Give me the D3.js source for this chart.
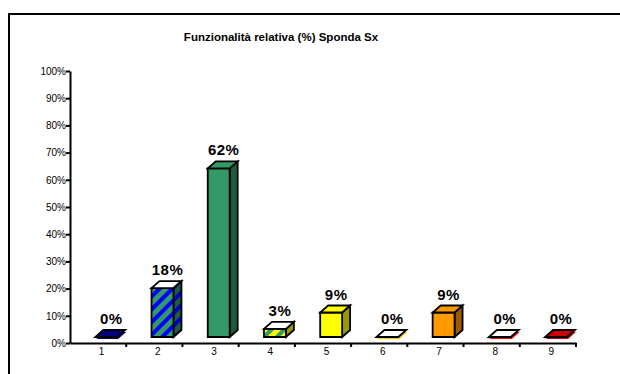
<!DOCTYPE html>
<html><head><meta charset="utf-8">
<script src="https://cdn.jsdelivr.net/npm/d3@7"></script>
<style>body{margin:0;background:#fff;}svg{display:block;font-family:"Liberation Sans",Arial,sans-serif;}</style>
</head><body>
<svg id="chart" width="620" height="374"></svg>
<script>
const title = "Funzionalità relativa (%) Sponda Sx";
const categories = ["1","2","3","4","5","6","7","8","9"];
const values = [0, 18, 62, 3, 9, 0, 9, 0, 0];
const valueLabels = ["0%","18%","62%","3%","9%","0%","9%","0%","0%"];
const yTicks = [0,10,20,30,40,50,60,70,80,90,100];
// per-bar colours: front, side, top, edge
const frontColors = ["#000080","url(#p2)","#339966","url(#p4)","#FFFF00","#FFCC00","#FF9900","#FF0000","#CC0000"];
const sideColors  = ["#000060","url(#p2d)","#1F5C3D","url(#p4d)","#999900","#CC9900","#995C00","#CC0000","#800000"];
const topColors   = ["#000080","#FFFFFF","#339966","#FFFFFF","#FFFF00","#FFFFFF","#FF9900","#FFFFFF","#CC0000"];

const svg = d3.select("#chart");
const defs = svg.append("defs");
function stripes(id, bg, fg){
  const p = defs.append("pattern").attr("id", id).attr("patternUnits","userSpaceOnUse")
    .attr("width",9).attr("height",9).attr("patternTransform","rotate(45)");
  p.append("rect").attr("width",9).attr("height",9).attr("fill",bg);
  p.append("rect").attr("width",4).attr("height",9).attr("fill",fg);
}
stripes("p2","#339966","#0000FF");
stripes("p2d","#1F5C3D","#0000CC");
stripes("p4","#FFFF00","#339966");
stripes("p4d","#999900","#1F5C3D");

// frame
svg.append("rect").attr("x",9).attr("y",14).attr("width",640).attr("height",400)
  .attr("fill","none").attr("stroke","#000").attr("stroke-width",2);

svg.append("text").attr("x",281).attr("y",41).attr("text-anchor","middle")
  .attr("font-size",11.5).attr("font-weight","bold").text(title);

const x = d3.scaleBand().domain(categories).range([70,576]).padding(0);
const y = d3.scaleLinear().domain([0,100]).range([343,71]);

// y axis
const yAx = svg.append("g").attr("transform","translate(70,0)")
  .call(d3.axisLeft(y).tickValues(yTicks).tickSize(4).tickSizeOuter(0).tickFormat(d=>d+"%"));
yAx.select(".domain").attr("stroke-width",2);
yAx.selectAll(".tick line").attr("stroke-width",2);
yAx.selectAll(".tick text").attr("font-size",10).attr("font-family","Liberation Sans, Arial, sans-serif")
  .attr("x",-4).attr("fill","#000");

// x axis
const xAx = svg.append("g").attr("transform","translate(0,343)")
  .call(d3.axisBottom(x).tickSize(0).tickSizeOuter(0));
xAx.select(".domain").attr("stroke-width",2);
xAx.selectAll(".tick text").attr("font-size",10).attr("font-family","Liberation Sans, Arial, sans-serif")
  .attr("dx",3.5).attr("dy",9).attr("fill","#000");
xAx.selectAll(".btick").data(categories).enter().append("line")
  .attr("x1",d=>x(d)+x.bandwidth()).attr("x2",d=>x(d)+x.bandwidth())
  .attr("y1",0).attr("y2",4).attr("stroke","#000").attr("stroke-width",2);

// bars
const barOff = x.bandwidth()*0.45, barW = x.bandwidth()*0.39;
const dx = 8, dy = 7, lift = 6;
const base = y(0) - lift;
const g = svg.append("g");
categories.forEach((c,i)=>{
  const v = values[i];
  const x0 = x(c) + barOff, x1 = x0 + barW;
  const yt = base - (y(0) - y(v));
  const bg = g.append("g").attr("stroke","#000").attr("stroke-width",1.8).attr("stroke-linejoin","miter");
  if (v > 0) {
    bg.append("path").attr("fill", sideColors[i])
      .attr("d", `M${x1},${base}L${x1+dx},${base-dy}L${x1+dx},${yt-dy}L${x1},${yt}Z`);
    bg.append("path").attr("fill", frontColors[i])
      .attr("d", `M${x0},${base}L${x1},${base}L${x1},${yt}L${x0},${yt}Z`);
  } else {
    g.insert("path", ":first-child").attr("fill", frontColors[i]).attr("stroke","none")
      .attr("d", `M${x0+1},${base+2}L${x1+1},${base+2}L${x1+dx+1},${base-dy+2}L${x0+dx+1},${base-dy+2}Z`);
  }
  bg.append("path").attr("fill", topColors[i])
    .attr("d", `M${x0},${yt}L${x1},${yt}L${x1+dx},${yt-dy}L${x0+dx},${yt-dy}Z`);
  g.append("text").attr("x", x0 + (barW+dx)/2 + 1).attr("y", yt - dy - 6)
    .attr("text-anchor","middle").attr("font-size",15).attr("font-weight","bold")
    .attr("letter-spacing",0.5).text(valueLabels[i]);
});
</script>
</body></html>
